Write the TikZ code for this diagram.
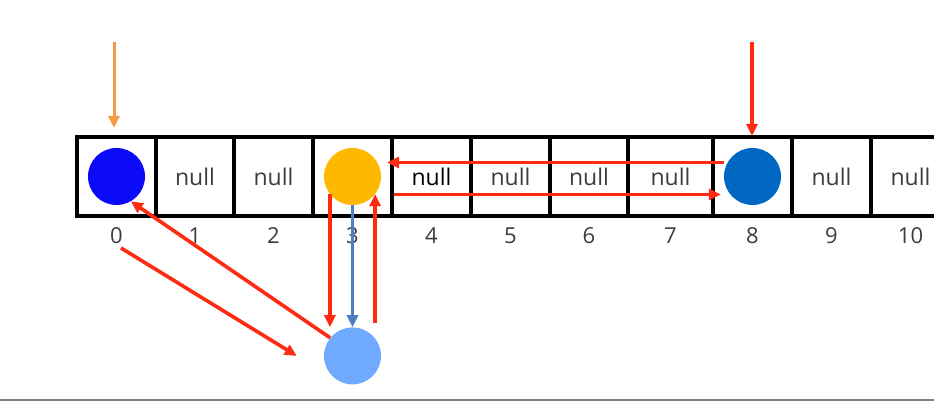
\documentclass[tikz,border=0pt]{standalone}
\usepackage{fontspec}
\setmainfont{Open Sans}
\usetikzlibrary{positioning,arrows.meta}
\definecolor{linkred}{HTML}{FF2A12}
\definecolor{linkorange}{HTML}{F8994A}
\definecolor{linkblue}{HTML}{4A7EC0}
\definecolor{ballblue}{HTML}{0A0AF8}
\definecolor{ballgold}{HTML}{FFB800}
\definecolor{balldark}{HTML}{0068C2}
\definecolor{balllight}{HTML}{70AAFF}
\definecolor{txtgray}{HTML}{3C3C3C}

\begin{document}
\begin{tikzpicture}[x=1pt,y=-1pt,>={Triangle[length=12pt,width=11pt]},
  cell/.style={draw,line width=3.4pt,minimum width=79pt,minimum height=79pt,outer sep=0pt,inner sep=0pt,font=\fontsize{23}{23}\selectfont,text=txtgray},
  ball/.style={circle,minimum size=57pt,inner sep=0pt},
  idx/.style={font=\fontsize{22}{22}\selectfont,text=txtgray},
  link/.style={->,line width=3.6pt,draw=linkred}]

\useasboundingbox (0,0) rectangle (934,401);
\clip (0,0) rectangle (934,401);

% the table
\node[cell](c0) at (116.5,176.5){};
\node[cell,minimum width=78pt](c1)[right=0pt of c0]{null};
\node[cell](c2)[right=0pt of c1]{null};
\node[cell](c3)[right=0pt of c2]{};
\node[cell,text=black](c4)[right=0pt of c3]{null};
\node[cell](c5)[right=0pt of c4]{null};
\node[cell,minimum width=78pt](c6)[right=0pt of c5]{null};
\node[cell,minimum width=85pt](c7)[right=0pt of c6]{null};
\node[cell](c8)[right=0pt of c7]{};
\node[cell](c9)[right=0pt of c8]{null};
\node[cell](c10)[right=0pt of c9]{null};

\foreach \i in {0,...,10}
  \node[idx] at ([yshift=-20pt]c\i.south) {\i};

% the entries
\node[ball,fill=ballblue](b0) at (c0){};
\node[ball,fill=ballgold](b3) at (c3){};
\node[ball,fill=balldark](b8) at (c8){};
\node[ball,fill=balllight](nw)[below=122pt of b3]{};

\coordinate (top0) at (114,42);
\coordinate (top8) at (752,42);
\coordinate (s0) at (121,248);

% the links
\draw[link,draw=linkorange,line width=3pt,shorten >=9pt] (top0) -- (top0 |- c0.north);
\draw[link,shorten >=1pt] (top8) -- (top8 |- c8.north);
\draw[link] ([yshift=14pt]b8.west) -- ([yshift=14pt,xshift=-5pt]c3.east);
\draw[link] ([yshift=-18pt,xshift=2pt]c3.east) -- ([yshift=-18pt,xshift=-3pt]b8.west);
\draw[link] (b3.218) -- (b3.218 |- nw.north);
\draw[link,draw=linkblue,line width=3pt] (b3.south) -- (nw.north);
\draw[link,shorten <=4pt] (b3.322 |- nw.north) -- (b3.322);
\draw[link] (nw.141) -- (b0.300);
\draw[link] (s0) -- ([xshift=-27pt]nw.west);

\draw[gray,line width=1.5pt] (0,400) -- (934,400);

\end{tikzpicture}
\end{document}
